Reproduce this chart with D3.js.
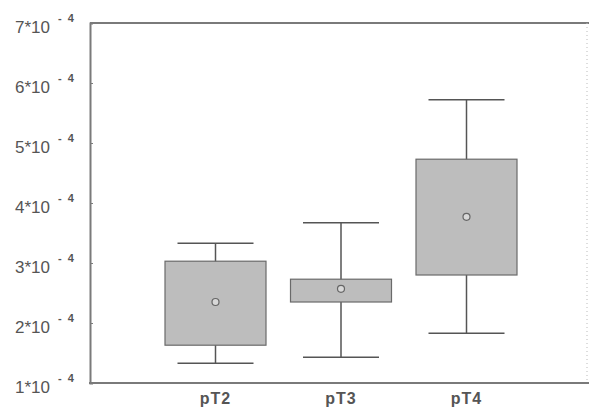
<!DOCTYPE html>
<html>
<head>
<meta charset="utf-8">
<script src="https://cdn.jsdelivr.net/npm/d3@7"></script>
<style>
  body { margin: 0; background: #fff; }
  text { font-family: "Liberation Sans", Arial, sans-serif; }
</style>
</head>
<body>
<div id="chart"></div>
<script>
// values in units of 10^-4
const groups = ["pT2", "pT3", "pT4"];
const whiskerLow = [1.33, 1.43, 1.83];
const boxLow = [1.63, 2.35, 2.80];
const means = [2.35, 2.57, 3.77];
const boxHigh = [3.03, 2.73, 4.73];
const whiskerHigh = [3.33, 3.67, 5.72];
const yTicks = [1, 2, 3, 4, 5, 6, 7];

const width = 589, height = 413;
const margin = { top: 23, right: 4, bottom: 30, left: 90 };

const svg = d3.select("#chart").append("svg")
    .attr("width", width)
    .attr("height", height);

const y = d3.scaleLinear()
    .domain([1, 7])
    .range([height - margin.bottom, margin.top]);

const x = d3.scalePoint()
    .domain(groups)
    .range([margin.left, 592])
    .padding(1);

const boxW = 101, capW = 76;
const axisColor = "#7a7a7a";

// frame
svg.append("line")
    .attr("x1", margin.left).attr("x2", width)
    .attr("y1", y(7)).attr("y2", y(7))
    .attr("stroke", axisColor).attr("stroke-width", 2);
svg.append("line")
    .attr("x1", 587).attr("x2", 587)
    .attr("y1", y(7)).attr("y2", y(1))
    .attr("stroke", "#bbb").attr("stroke-width", 1)
    .attr("stroke-dasharray", "1,3");

// y axis with the 10^-4 labels
const yAxis = svg.append("g")
    .attr("transform", `translate(${margin.left},0)`)
    .call(d3.axisLeft(y).tickValues(yTicks).tickSize(-3).tickFormat(""));
yAxis.select(".domain").attr("stroke", axisColor).attr("stroke-width", 2);
yAxis.selectAll(".tick line").attr("stroke", axisColor);

const labels = svg.append("g").selectAll("g")
    .data(yTicks)
    .enter().append("g")
    .attr("transform", d => `translate(0,${y(d)})`);

labels.append("text")
    .attr("x", 50)
    .attr("y", 10)
    .attr("text-anchor", "end")
    .attr("fill", "#555")
    .style("font-size", "17px")
    .text(d => d + "*10");

labels.append("text")
    .attr("x", 58)
    .attr("y", -1)
    .attr("fill", "#555")
    .style("font-size", "11px")
    .style("font-weight", "bold")
    .attr("xml:space", "preserve")
    .text("-  4");

// x axis
svg.append("line")
    .attr("x1", margin.left - 1).attr("x2", width)
    .attr("y1", y(1)).attr("y2", y(1))
    .attr("stroke", axisColor).attr("stroke-width", 2);

svg.append("g").selectAll("text")
    .data(groups)
    .enter().append("text")
    .attr("x", d => x(d))
    .attr("y", height - 9)
    .attr("text-anchor", "middle")
    .attr("fill", "#555")
    .style("font-size", "16px")
    .style("font-weight", "bold")
    .style("letter-spacing", "1px")
    .text(d => d);

// boxes
const boxes = svg.append("g").selectAll("g")
    .data(groups.map((g, i) => ({
        g: g, wl: whiskerLow[i], bl: boxLow[i], m: means[i], bh: boxHigh[i], wh: whiskerHigh[i]
    })))
    .enter().append("g")
    .attr("transform", d => `translate(${x(d.g)},0)`);

const lineColor = "#555";

boxes.append("line")
    .attr("x1", 0).attr("x2", 0)
    .attr("y1", d => y(d.wl)).attr("y2", d => y(d.wh))
    .attr("stroke", lineColor).attr("stroke-width", 1.5);

boxes.append("line")
    .attr("x1", -capW / 2).attr("x2", capW / 2)
    .attr("y1", d => y(d.wh)).attr("y2", d => y(d.wh))
    .attr("stroke", lineColor).attr("stroke-width", 1.5);

boxes.append("line")
    .attr("x1", -capW / 2).attr("x2", capW / 2)
    .attr("y1", d => y(d.wl)).attr("y2", d => y(d.wl))
    .attr("stroke", lineColor).attr("stroke-width", 1.5);

boxes.append("rect")
    .attr("x", -boxW / 2)
    .attr("width", boxW)
    .attr("y", d => y(d.bh))
    .attr("height", d => y(d.bl) - y(d.bh))
    .attr("fill", "#bdbdbd")
    .attr("stroke", "#6a6a6a")
    .attr("stroke-width", 1.2);

boxes.append("circle")
    .attr("cx", 0)
    .attr("cy", d => y(d.m))
    .attr("r", 3.5)
    .attr("fill", "#d8d8d8")
    .attr("stroke", "#666")
    .attr("stroke-width", 1.2);
</script>
</body>
</html>
